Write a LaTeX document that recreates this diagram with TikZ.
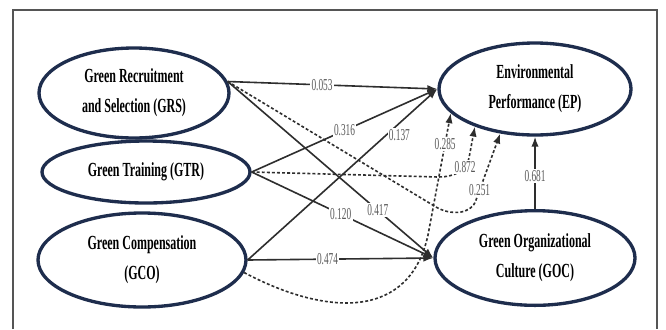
\documentclass[tikz,border=0pt]{standalone}
\usepackage{fontspec}
\usepackage{tikz}
\usetikzlibrary{shapes.geometric, positioning, arrows.meta}
\newfontfamily\latentfont[FakeStretch=0.6]{Liberation Serif}
\newfontfamily\coeffont[FakeStretch=0.56]{Liberation Serif}
\definecolor{ovalblue}{HTML}{1E2D4D}
\definecolor{pathgray}{HTML}{2E2E2E}
\definecolor{framegray}{HTML}{555555}
\tikzset{
    >={Latex[length=7.5pt, width=5.5pt]}, % filled arrow heads
    latent/.style={ellipse, draw=ovalblue, line width=2.5pt, fill=white, inner sep=0pt, align=center, font=\latentfont\bfseries\fontsize{15}{22.5}\selectfont}, % the constructs
    effect/.style={->, draw=pathgray, line width=1.2pt}, % direct paths
    mediated/.style={->, draw=pathgray, line width=1.2pt, dash pattern=on 2.2pt off 1.6pt}, % indirect paths
    coef/.style={fill=white, inner sep=1pt, text=black!65, font=\coeffont\fontsize{12.5}{14}\selectfont}, % path coefficients
}
\begin{document}
\begin{tikzpicture}[x=0.75pt, y=-0.75pt]
    \path[use as bounding box, fill=white] (0,0) rectangle (666,329);
    \draw[framegray, line width=1.1pt] (13,329) -- (13,10) -- (657,10) -- (657,329);
    \node[latent, minimum width=142.5pt, minimum height=67.5pt] (GRS) at (134,93) {Green Recruitment\\and Selection (GRS)};
    \node[latent, minimum width=156pt, minimum height=46.5pt] (GTR) at (146,172) {Green Training (GTR)};
    \node[latent, minimum width=156pt, minimum height=70.5pt] (GCO) at (142,260) {Green Compensation\\(GCO)};
    \node[latent, minimum width=144pt, minimum height=69pt] (EP) at (535,89) {Environmental\\Performance (EP)};
    \node[latent, minimum width=150pt, minimum height=71pt] (GOC) at (535,258) {Green Organizational\\Culture (GOC)};
    \coordinate (m1a) at (436,207);
    \coordinate (m1b) at (476,200);
    \coordinate (m2a) at (438,177);
    \coordinate (m2b) at (469,158);
    \coordinate (m3a) at (428,235);
    \draw[mediated] (GRS.7) -- (m1a) to[out=-31, in=-107] (m1b) -- node[coef, pos=0.15] {0.251} (EP.232);
    \draw[mediated] (GTR.east) -- (m2a) to[out=-1, in=-101] node[coef, pos=0.75] {0.872} (m2b) -- (EP.212);
    \draw[mediated] (GCO.-7) .. controls (330,318) and (410,318) .. (m3a) -- node[coef, pos=0.75] {0.285} (EP.196);
    \draw[effect] (GRS.7) -- node[coef, pos=0.45] {0.053} (EP.west);
    \draw[effect] (GTR.east) -- node[coef, pos=0.5] {0.316} (EP.west);
    \draw[effect] (GCO.east) -- node[coef, pos=0.8, yshift=-9pt] {0.137} (EP.west);
    \draw[effect] (GRS.7) -- node[coef, pos=0.73] {0.417} (GOC.west);
    \draw[effect] (GTR.east) -- node[coef, pos=0.49] {0.120} (GOC.west);
    \draw[effect] (GCO.east) -- node[coef, pos=0.43] {0.474} (GOC.west);
    \draw[effect] (GOC.north) -- node[coef, pos=0.45] {0.681} (EP.south);
\end{tikzpicture}
\end{document}
